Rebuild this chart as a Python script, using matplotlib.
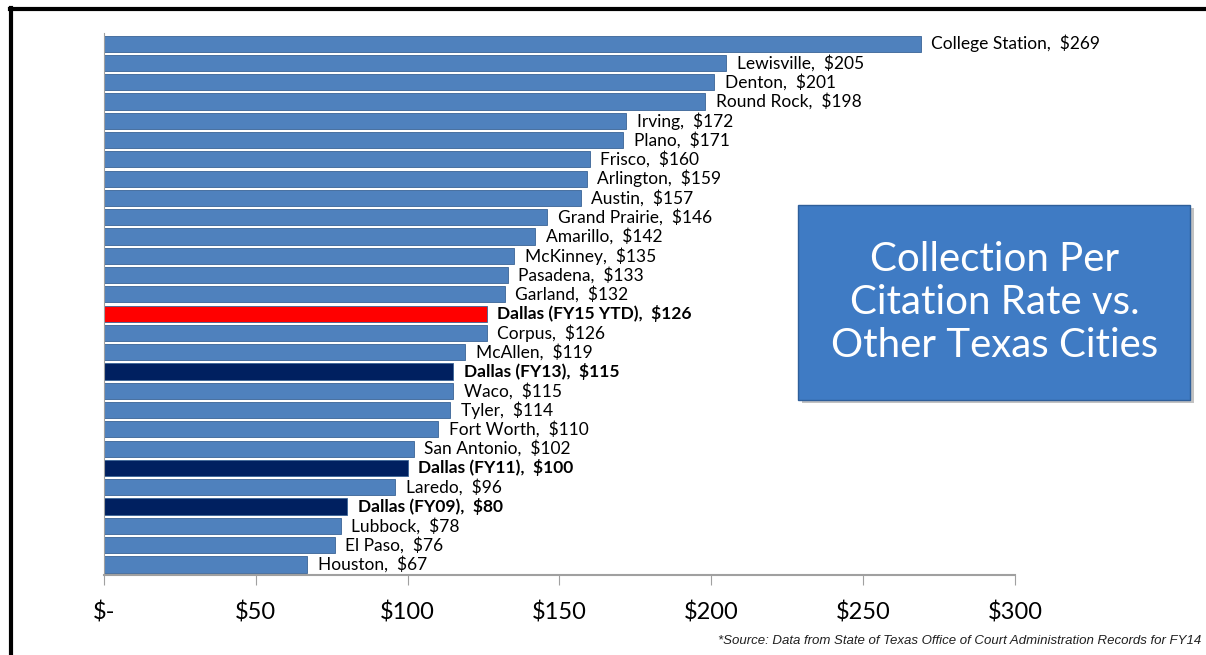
import matplotlib.pyplot as plt
from matplotlib.patches import FancyBboxPatch
from matplotlib.lines import Line2D

cities = ["College Station", "Lewisville", "Denton", "Round Rock", "Irving", "Plano",
          "Frisco", "Arlington", "Austin", "Grand Prairie", "Amarillo", "McKinney",
          "Pasadena", "Garland", "Dallas (FY15 YTD)", "Corpus", "McAllen", "Dallas (FY13)",
          "Waco", "Tyler", "Fort Worth", "San Antonio", "Dallas (FY11)", "Laredo",
          "Dallas (FY09)", "Lubbock", "El Paso", "Houston"]
rates = [269, 205, 201, 198, 172, 171, 160, 159, 157, 146, 142, 135, 133, 132,
         126, 126, 119, 115, 115, 114, 110, 102, 100, 96, 80, 78, 76, 67]
ticks = [0, 50, 100, 150, 200, 250, 300]
tick_labels = ["$-", "$50", "$100", "$150", "$200", "$250", "$300"]

plt.rcParams['font.family'] = ['Lato', 'DejaVu Sans']

def bar_color(name):
    if "YTD" in name:
        return "#FF0000"
    if name.startswith("Dallas"):
        return "#002060"
    return "#4F81BD"

fig = plt.figure(figsize=(12.06, 6.55), dpi=100)
ax = fig.add_axes([0.0862, 0.1221, 0.7554, 0.8275])

ypos = list(range(len(cities)))
colors = [bar_color(c) for c in cities]
ax.barh(ypos, rates, height=0.84, color=colors, edgecolor="#3A6496", linewidth=0.6)

for y, c, v in zip(ypos, cities, rates):
    bold = c.startswith("Dallas")
    ax.text(v + 3.5, y, f"{c},  ${v}", va="center", ha="left", fontsize=12.5,
            fontweight="bold" if bold else "normal", color="black")

ax.set_ylim(len(cities) - 0.45, -0.55)
ax.set_xlim(0, 300)
ax.set_yticks([])
ax.set_xticks(ticks)
ax.set_xticklabels(tick_labels, fontsize=17)
ax.tick_params(axis="x", direction="out", length=7, color="#A0A0A0", pad=12)
for s in ["top", "right"]:
    ax.spines[s].set_visible(False)
ax.spines["left"].set_color("#A0A0A0")
ax.spines["bottom"].set_color("#A0A0A0")
ax.spines["bottom"].set_linewidth(1.5)

# title box
shadow = FancyBboxPatch((0.665, 0.385), 0.325, 0.297, boxstyle="square,pad=0",
                        transform=fig.transFigure, facecolor="#9A9A9A", edgecolor="none", alpha=0.6)
fig.patches.append(shadow)
box = FancyBboxPatch((0.662, 0.39), 0.325, 0.297, boxstyle="square,pad=0",
                     transform=fig.transFigure, facecolor="#3F7BC4", edgecolor="#2F5F9A", linewidth=1)
fig.patches.append(box)
fig.text(0.8245, 0.5385, "Collection Per\nCitation Rate vs.\nOther Texas Cities", ha="center", va="center",
         fontsize=29, color="white", linespacing=1.2)

fig.text(0.996, 0.012, "*Source: Data from State of Texas Office of Court Administration Records for FY14",
         ha="right", va="bottom", fontsize=9.5, style="italic", family="Liberation Sans", color="#202020")

# frame lines
fig.add_artist(Line2D([0.0095, 0.0095], [0, 0.988], transform=fig.transFigure, color="black", linewidth=3))
fig.add_artist(Line2D([0.0082, 1.0], [0.987, 0.987], transform=fig.transFigure, color="black", linewidth=3))

fig.savefig("out.png", dpi=100)
